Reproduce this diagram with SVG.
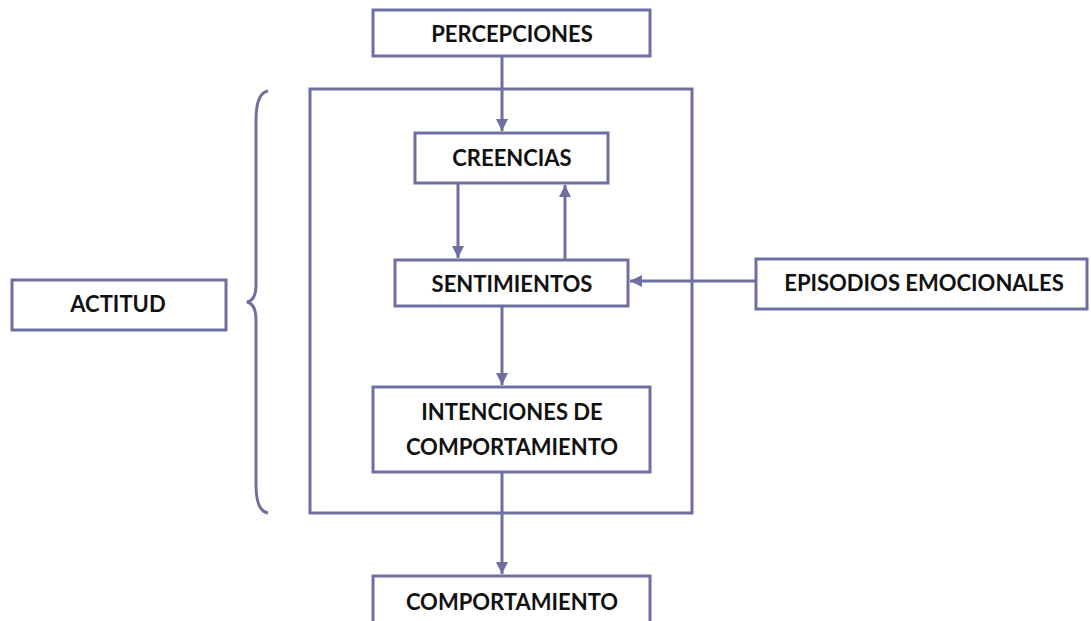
<svg xmlns="http://www.w3.org/2000/svg" width="1091" height="621" viewBox="0 0 1091 621">
<style>
.box{fill:#fff;stroke:#6e6ea0;stroke-width:3}
.frame{fill:none;stroke:#6e6ea0;stroke-width:3}
.lbl{font-family:Lato,"Open Sans",sans-serif;font-weight:bold;font-size:22px;fill:#111;text-anchor:middle;dominant-baseline:central}
.con{fill:none;stroke:#6e6ea0;stroke-width:3}
</style>
<defs>
<marker id="ah" viewBox="0 0 10 10" refX="10" refY="5" markerWidth="4" markerHeight="4" orient="auto" markerUnits="strokeWidth">
<path d="M0,0 L10,5 L0,10 z" fill="#6e6ea0"/>
</marker>
</defs>
<g id="frame"><rect class="frame" x="310" y="89" width="382" height="424"/></g>
<g id="brace"><path class="frame" d="M268,91 Q256,93 256,120 L256,285 Q256,300 247,302 Q256,304 256,320 L256,485 Q256,511 268,513"/></g>
<g id="connectors">
<line class="con" x1="502" y1="57" x2="502" y2="131" marker-end="url(#ah)"/>
<line class="con" x1="458" y1="183" x2="458" y2="258" marker-end="url(#ah)"/>
<line class="con" x1="565" y1="260" x2="565" y2="185" marker-end="url(#ah)"/>
<line class="con" x1="756" y1="281" x2="630" y2="281" marker-end="url(#ah)"/>
<line class="con" x1="502" y1="306" x2="502" y2="385" marker-end="url(#ah)"/>
<line class="con" x1="502" y1="472" x2="502" y2="574" marker-end="url(#ah)"/>
</g>
<g id="percepciones"><rect class="box" x="373" y="10" width="277" height="46"/><text class="lbl" x="512" y="33">PERCEPCIONES</text></g>
<g id="creencias"><rect class="box" x="415" y="133" width="193" height="50"/><text class="lbl" x="512" y="157">CREENCIAS</text></g>
<g id="sentimientos"><rect class="box" x="395" y="260" width="233" height="46"/><text class="lbl" x="512" y="283">SENTIMIENTOS</text></g>
<g id="episodios"><rect class="box" x="756" y="259" width="331" height="50"/><text class="lbl" x="924" y="282">EPISODIOS EMOCIONALES</text></g>
<g id="actitud"><rect class="box" x="12" y="280" width="214" height="50"/><text class="lbl" x="118" y="303">ACTITUD</text></g>
<g id="intenciones"><rect class="box" x="373" y="387" width="277" height="85"/><text class="lbl" x="512" y="411">INTENCIONES DE</text><text class="lbl" x="512" y="446">COMPORTAMIENTO</text></g>
<g id="comportamiento"><rect class="box" x="373" y="576" width="277" height="60"/><text class="lbl" x="512" y="601">COMPORTAMIENTO</text></g>
</svg>
